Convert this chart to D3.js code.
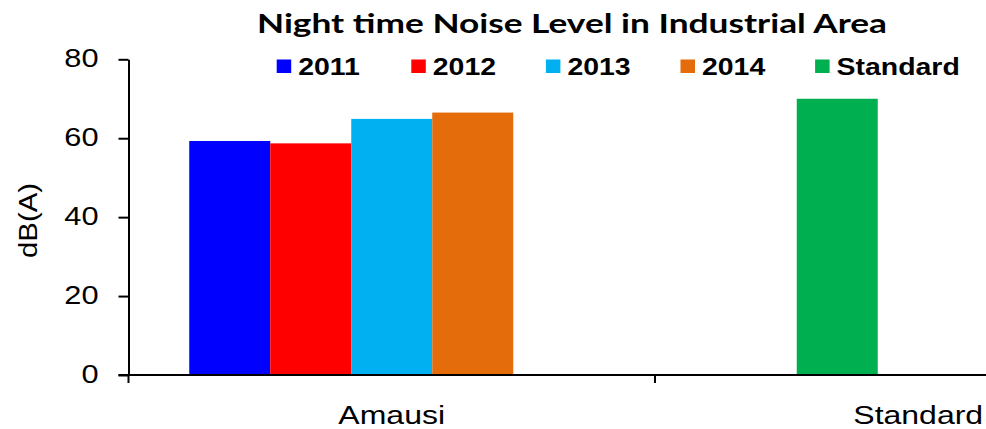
<!DOCTYPE html>
<html>
<head>
<meta charset="utf-8">
<script src="https://cdn.jsdelivr.net/npm/d3@7"></script>
<style>
  html, body { margin: 0; padding: 0; background: #fff; }
  svg { display: block; }
</style>
</head>
<body>
<svg id="chart" width="986" height="429"></svg>
<script>
// ---- data ----
const categories = ["Amausi", "Standard"];
const seriesNames = ["2011", "2012", "2013", "2014", "Standard"];
const values2011 = [59.3, null];
const values2012 = [58.7, 70];      // Standard point is recoloured green
const values2013 = [64.9, null];
const values2014 = [66.5, null];
const valuesStandard = [null, null];
const seriesColors = ["#0000FF", "#FF0000", "#00B0F0", "#E46C0A", "#00B050"];
const yTicks = [0, 20, 40, 60, 80];
const titleText = "Night time Noise Level in Industrial Area";
const yLabel = "dB(A)";

const seriesValues = [values2011, values2012, values2013, values2014, valuesStandard];

const svg = d3.select("#chart");

const plotLeft = 128.5, plotBottom = 375, plotTop = 59.3;
const catWidth = 526.5;

const y = d3.scaleLinear().domain([0, 80]).range([plotBottom, plotTop]);
const x0 = d3.scaleBand().domain(categories).range([plotLeft, plotLeft + catWidth * categories.length]).padding(0);
const x1 = d3.scaleBand().domain(seriesNames).range([0, x0.bandwidth()]).paddingInner(0).paddingOuter(0.75);

function stretch(sel, k) {
  sel.each(function () {
    const len = this.getComputedTextLength();
    d3.select(this).attr("textLength", len * k).attr("lengthAdjust", "spacingAndGlyphs");
  });
}

// ---- bars ----
const barData = [];
seriesNames.forEach((s, si) => {
  categories.forEach((c, ci) => {
    const v = seriesValues[si][ci];
    if (v != null) {
      const color = (c === "Standard") ? seriesColors[4] : seriesColors[si];
      barData.push({ s, c, v, color });
    }
  });
});

svg.append("g").selectAll("rect").data(barData).join("rect")
  .attr("x", d => x0(d.c) + x1(d.s))
  .attr("y", d => y(d.v))
  .attr("width", x1.bandwidth())
  .attr("height", d => y(0) - y(d.v))
  .attr("fill", d => d.color);

// ---- y axis ----
const yAxis = svg.append("g")
  .attr("transform", `translate(${plotLeft},0)`)
  .call(d3.axisLeft(y).tickValues(yTicks).tickSize(10).tickPadding(20).tickSizeOuter(0));
yAxis.select(".domain").attr("stroke", "#000").attr("stroke-width", 2);
yAxis.selectAll(".tick line").attr("stroke", "#000").attr("stroke-width", 2);
yAxis.selectAll(".tick text")
  .attr("font-family", "'Liberation Sans', Arial, sans-serif")
  .attr("font-size", 25).attr("fill", "#000")
  .attr("dy", "0.29em").attr("x", -30);
stretch(yAxis.selectAll(".tick text"), 1.23);

// ---- x axis ----
const xAxisG = svg.append("g").attr("transform", `translate(0,${plotBottom})`);
xAxisG.append("line")
  .attr("x1", plotLeft - 10).attr("x2", plotLeft + catWidth * categories.length)
  .attr("stroke", "#000").attr("stroke-width", 2);
// category boundary ticks
const boundaries = [x0.range()[0]].concat(categories.map(c => x0(c) + x0.bandwidth()));
xAxisG.selectAll("line.tk").data(boundaries).join("line").attr("class", "tk")
  .attr("x1", d => d).attr("x2", d => d).attr("y1", 0).attr("y2", 8)
  .attr("stroke", "#000").attr("stroke-width", 2);
const xl = xAxisG.selectAll("text").data(categories).join("text")
  .attr("x", d => x0(d) + x0.bandwidth() / 2)
  .attr("y", 49)
  .attr("text-anchor", "middle")
  .attr("font-family", "'Liberation Sans', Arial, sans-serif")
  .attr("font-size", 25).attr("fill", "#000")
  .text(d => d);
stretch(xl, 1.28);

// ---- y label ----
svg.append("text")
  .attr("transform", "translate(36.5,220.5) rotate(-90)")
  .attr("text-anchor", "middle")
  .attr("font-family", "'Liberation Sans', Arial, sans-serif")
  .attr("font-size", 25).attr("fill", "#000")
  .attr("textLength", 75).attr("lengthAdjust", "spacingAndGlyphs")
  .text(yLabel);

// ---- title ----
svg.append("text")
  .attr("x", 572).attr("y", 33)
  .attr("text-anchor", "middle")
  .attr("font-family", "Lato, 'Open Sans', sans-serif")
  .attr("font-weight", "bold")
  .attr("font-size", 27).attr("fill", "#000")
  .attr("textLength", 630).attr("lengthAdjust", "spacingAndGlyphs")
  .text(titleText);

// ---- legend ----
const legendStart = 276.7, legendStep = 134.6;
const lg = svg.append("g").selectAll("g").data(seriesNames).join("g")
  .attr("transform", (d, i) => `translate(${legendStart + i * legendStep},0)`);
lg.append("rect").attr("x", 0).attr("y", 59.5).attr("width", 14.5).attr("height", 13.5)
  .attr("fill", (d, i) => seriesColors[i]);
const lt = lg.append("text").attr("x", 21.5).attr("y", 75)
  .attr("font-family", "'Liberation Sans', Arial, sans-serif")
  .attr("font-weight", "bold").attr("font-size", 24.5).attr("fill", "#000")
  .text(d => d);
stretch(lt, 1.16);
</script>
</body>
</html>
